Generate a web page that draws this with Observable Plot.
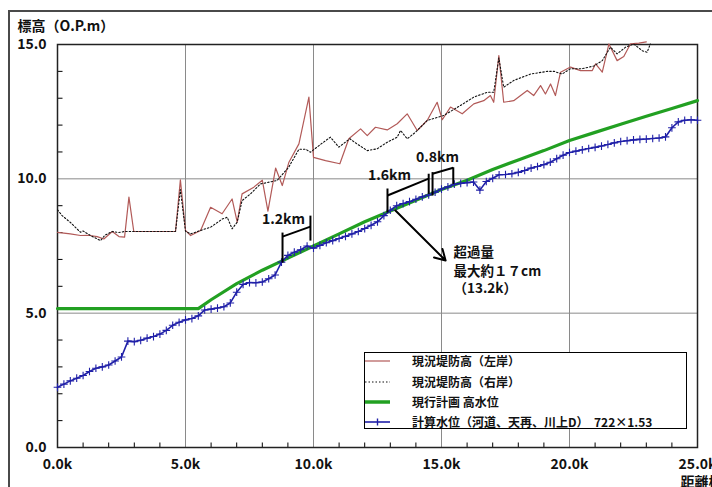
<!DOCTYPE html>
<html><head><meta charset="utf-8">
<script src="https://cdn.jsdelivr.net/npm/d3@7"></script>
<script src="https://cdn.jsdelivr.net/npm/@observablehq/plot@0.6"></script>
<style>
body{margin:0;background:#fff;}
#wrap{position:relative;width:712px;height:487px;overflow:hidden;font-family:'Noto Sans CJK JP','Noto Sans',sans-serif;background:#fff;}
#border{position:absolute;left:8px;top:10px;width:900px;height:700px;border-left:2px solid #4a4a4a;border-top:2px solid #4a4a4a;}
#wrap svg{position:absolute;left:0;top:0;}
#legend{position:absolute;left:364px;top:352px;width:323px;height:77px;box-sizing:border-box;border:1.5px solid #000;background:#fff;}
.row{position:absolute;left:0;height:16px;width:100%;}
.row svg{position:absolute;left:20px;top:0;}
.row span{position:absolute;left:47px;top:0;line-height:16px;font-size:12px;font-weight:bold;color:#111;white-space:pre;}
</style></head><body>
<div id="wrap"><div id="border"></div></div>
<script>
// ---- data ----
const xTicks = [0, 5, 10, 15, 20, 25];
const xTickLabels = ["0.0k", "5.0k", "10.0k", "15.0k", "20.0k", "25.0k"];
const yTicks = [0, 5, 10, 15];
const yTickLabels = ["0.0", "5.0", "10.0", "15.0"];
const xMinor = [1,2,3,4,6,7,8,9,11,12,13,14,16,17,18,19,21,22,23,24];
const yMinor = [1,2,3,4,6,7,8,9,11,12,13,14];

// 現況堤防高（左岸）
const leftKm  = [0.0,0.5,0.9,1.2,1.55,1.81,2.14,2.4,2.62,2.79,2.98,4.61,4.8,5.0,5.2,5.59,5.98,6.43,6.82,7.02,7.21,7.67,8.0,8.22,8.52,8.78,9.04,9.43,9.82,10.0,10.47,11.03,11.38,11.84,12.1,12.42,12.88,13.27,13.66,14.05,14.44,14.83,15.03,15.35,15.81,16.26,16.65,16.91,17.04,17.24,17.43,17.82,18.35,18.6,18.87,19.06,19.26,19.45,19.65,20.04,20.43,20.89,21.02,21.28,21.54,21.86,22.12,22.38,22.71,23.0];
const leftVal = [8.01,7.95,7.89,7.9,7.85,7.76,8.04,7.85,7.83,9.32,8.04,8.04,9.96,8.08,7.89,8.08,8.94,8.7,9.25,8.39,9.44,9.69,9.95,8.8,10.4,9.75,10.62,11.3,13.04,10.8,10.68,10.56,11.49,11.86,11.61,11.92,11.82,12.05,12.42,11.8,12.17,12.85,12.2,12.67,12.42,12.79,12.91,13.1,12.85,14.59,12.85,12.91,13.29,13.1,13.47,13.16,13.53,13.1,13.97,14.16,14.03,14.03,14.28,13.97,15.02,14.4,14.55,15.02,15.05,15.1];

// 現況堤防高（右岸）
const rightKm  = [0.0,0.18,0.5,0.9,1.0,1.29,1.68,1.85,2.14,2.4,2.62,2.98,4.61,4.8,5.0,5.2,5.59,5.98,6.43,6.63,6.82,7.02,7.21,7.54,7.93,8.58,9.03,9.43,9.7,9.88,10.3,10.66,10.99,11.42,11.7,12.1,12.49,12.88,13.27,13.4,13.66,13.98,14.44,15.09,15.74,16.26,16.78,17.04,17.24,17.43,17.82,18.48,19.13,19.4,19.71,20.04,20.5,20.95,21.28,21.6,21.86,22.19,22.51,22.84,23.03,23.16];
const rightVal = [8.85,8.63,8.38,8.01,8.06,7.89,7.7,7.9,8.04,8.0,8.04,8.04,8.04,9.6,8.05,7.95,8.08,8.2,8.5,8.57,8.14,8.39,9.19,9.44,9.81,9.94,10.43,11.1,11.1,10.99,11.3,11.55,11.18,11.49,11.3,11.05,11.12,11.36,11.55,11.8,11.49,11.73,12.17,12.36,12.73,13.04,13.22,13.22,14.5,13.41,13.66,13.9,14.0,14.0,13.9,14.1,14.1,14.2,14.4,14.9,14.65,14.9,15.02,14.77,14.71,15.02];

// 現行計画 高水位
const planKm  = [0,5.5,6,7,8,9,10,11,12,13,14,15,16,17,18,19,20,21,22,23,24,25];
const planVal = [5.17,5.17,5.5,6.1,6.6,7.05,7.5,7.95,8.4,8.8,9.2,9.6,9.95,10.35,10.7,11.05,11.43,11.73,12.03,12.33,12.62,12.91];

// 計算水位（0.25km毎）
const calcVal = [2.24,2.36,2.48,2.58,2.68,2.83,2.95,3.00,3.07,3.22,3.37,3.96,3.94,3.99,4.07,4.13,4.22,4.36,4.55,4.66,4.75,4.80,4.90,5.12,5.15,5.19,5.24,5.38,5.78,6.07,6.14,6.13,6.16,6.28,6.42,6.90,7.15,7.27,7.36,7.50,7.42,7.52,7.62,7.70,7.78,7.86,7.95,8.04,8.15,8.27,8.40,8.63,8.83,9.00,9.08,9.15,9.24,9.33,9.40,9.50,9.62,9.70,9.80,9.83,9.86,9.88,9.58,9.90,10.02,10.15,10.16,10.19,10.24,10.31,10.40,10.46,10.53,10.62,10.75,10.88,10.98,11.03,11.08,11.13,11.17,11.22,11.28,11.34,11.39,11.42,11.45,11.47,11.48,11.50,11.52,11.56,11.90,12.12,12.18,12.20,12.18];
const calcKm = calcVal.map((_, i) => i * 0.25);

// annotations (data units: km, m)
const bracketSegs = [
  [8.79, 6.88, 8.79, 8.00], [8.79, 7.85, 9.88, 8.22], [9.88, 7.70, 9.88, 8.63],
  [12.89, 8.75, 12.89, 9.64], [12.89, 9.38, 14.50, 10.01], [14.50, 9.44, 14.50, 10.19],
  [14.65, 9.38, 14.65, 10.25], [14.65, 10.19, 15.46, 10.41], [15.46, 9.81, 15.46, 10.43]
];
const bracketLabels = [
  {x: 8.83, y: 8.49, t: "1.2km"},
  {x: 12.97, y: 10.12, t: "1.6km"},
  {x: 14.84, y: 10.79, t: "0.8km"}
];
const arrowSeg = [{x1: 13.2, y1: 8.82, x2: 15.16, y2: 6.96}];
const noteLines = [
  {x: 15.47, y: 7.24, t: "超過量"},
  {x: 15.47, y: 6.53, t: "最大約１７cm"},
  {x: 15.47, y: 5.92, t: "（13.2k）"}
];
const legendItems = ["現況堤防高（左岸）", "現況堤防高（右岸）", "現行計画 高水位", "計算水位（河道、天再、川上D）  722×1.53"];

// ---- build ----
const leftRows = leftKm.map((k, i) => ({km: k, v: leftVal[i]}));
const rightRows = rightKm.map((k, i) => ({km: k, v: rightVal[i]}));
const planRows = planKm.map((k, i) => ({km: k, v: planVal[i]}));
const calcRows = calcKm.map((k, i) => ({km: k, v: calcVal[i]}));

const RED = "#b25a58", GREEN = "#22a022", BLUE = "#2020a8";
const FONT = "'Noto Sans CJK JP','Noto Sans',sans-serif";
const tickUp = {draw(ctx) { ctx.moveTo(0, 0); ctx.lineTo(0, -5); }};
const tickRight = {draw(ctx) { ctx.moveTo(0, 0); ctx.lineTo(5, 0); }};

const chart = Plot.plot({
  width: 712, height: 487,
  marginLeft: 57, marginRight: 15, marginTop: 44, marginBottom: 40,
  x: {domain: [0, 25]},
  y: {domain: [0, 15]},
  style: {background: "transparent", fontFamily: FONT, fontSize: "13px", color: "#111", overflow: "visible"},
  marks: [
    Plot.gridX(xTicks.slice(1, -1), {stroke: "#8a8a8a", strokeOpacity: 1, strokeWidth: 1}),
    Plot.gridY(yTicks.slice(1, -1), {stroke: "#8a8a8a", strokeOpacity: 1, strokeWidth: 1}),
    Plot.dot(xMinor, {x: d => d, y: () => 0, symbol: tickUp, stroke: "#000", fill: "none", strokeWidth: 1}),
    Plot.dot(yMinor, {x: () => 0, y: d => d, symbol: tickRight, stroke: "#000", fill: "none", strokeWidth: 1}),
    Plot.frame({stroke: "#222", strokeWidth: 1.5}),
    Plot.line(leftRows, {x: "km", y: "v", stroke: RED, strokeWidth: 1.2}),
    Plot.line(rightRows, {x: "km", y: "v", stroke: "#111", strokeWidth: 1.1, strokeDasharray: "1.5,2"}),
    Plot.line(planRows, {x: "km", y: "v", stroke: GREEN, strokeWidth: 3.2}),
    Plot.line(calcRows, {x: "km", y: "v", stroke: BLUE, strokeWidth: 1.6}),
    Plot.dot(calcRows, {x: "km", y: "v", symbol: "plus", r: 2.6, stroke: BLUE, strokeWidth: 1.1}),
    Plot.link(bracketSegs, {x1: d => d[0], y1: d => d[1], x2: d => d[2], y2: d => d[3], stroke: "#000", strokeWidth: 2}),
    Plot.arrow(arrowSeg, {x1: "x1", y1: "y1", x2: "x2", y2: "y2", stroke: "#000", strokeWidth: 2, headLength: 9}),
    Plot.text(bracketLabels, {x: "x", y: "y", text: "t", fontSize: 14, fontWeight: "bold", fill: "#111"}),
    Plot.text(noteLines, {x: "x", y: "y", text: "t", textAnchor: "start", fontSize: 13.5, fontWeight: "bold", fill: "#111"}),
    Plot.axisX(xTicks, {tickSize: 0, tickPadding: 12, tickFormat: d => xTickLabels[xTicks.indexOf(d)], fontSize: 14, fontWeight: "bold", label: null}),
    Plot.axisY(yTicks, {tickSize: 0, tickPadding: 11, tickFormat: d => yTickLabels[yTicks.indexOf(d)], fontSize: 14, fontWeight: "bold", label: null}),
    Plot.text(["標高（O.P.m）"], {frameAnchor: "top-left", dx: -40, dy: -23, textAnchor: "start", fontSize: 14, fontWeight: "bold", fill: "#111"}),
    Plot.text(["距離標"], {frameAnchor: "bottom-right", dx: -17, dy: 39, textAnchor: "start", fontSize: 14, fontWeight: "bold", fill: "#111"})
  ]
});
const wrap = document.getElementById("wrap");
wrap.appendChild(chart);

// legend
const legend = document.createElement("div");
legend.id = "legend";
const rowTops = [0, 21, 41, 61];
const samples = [
  `<line x1="0" y1="8" x2="25" y2="8" stroke="${RED}" stroke-width="1.2"/>`,
  `<line x1="0" y1="8" x2="25" y2="8" stroke="#111" stroke-width="1.1" stroke-dasharray="1.5,2"/>`,
  `<line x1="0" y1="8" x2="25" y2="8" stroke="${GREEN}" stroke-width="3.5"/>`,
  `<line x1="0" y1="8" x2="25" y2="8" stroke="${BLUE}" stroke-width="1.6"/><line x1="12.5" y1="4.5" x2="12.5" y2="11.5" stroke="${BLUE}" stroke-width="1.4"/>`
];
legendItems.forEach((t, i) => {
  const r = document.createElement("div");
  r.className = "row";
  r.style.top = rowTops[i] + "px";
  r.innerHTML = `<svg width="26" height="16">${samples[i]}</svg><span>${t}</span>`;
  legend.appendChild(r);
});
wrap.appendChild(legend);
</script>
</body></html>
